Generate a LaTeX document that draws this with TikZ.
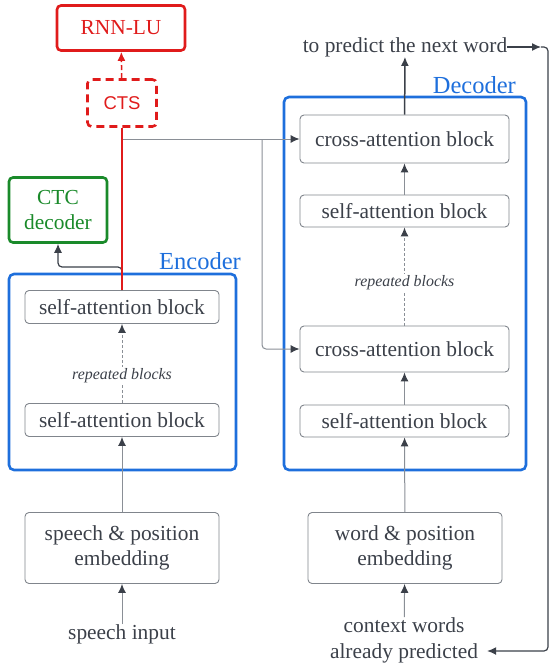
\documentclass[tikz,border=0pt]{standalone}
\usepackage{fontspec}
\setmainfont{Liberation Serif}
\setsansfont{Liberation Sans}
\usepackage{tikz}
\usetikzlibrary{arrows.meta,positioning}
\definecolor{txtgray}{HTML}{3B4049}
\definecolor{linegray}{HTML}{8A8F96}
\definecolor{boxgray}{HTML}{80858C}
\definecolor{encblue}{HTML}{1E6FDC}
\definecolor{ctsred}{HTML}{E01B1B}
\definecolor{ctcgreen}{HTML}{1A8A2A}
\tikzset
{
    txt/.style      = {inner sep=0pt, align=center, text=txtgray, font=\fontsize{21.4}{26}\selectfont},
    block/.style    = {rectangle, rounded corners=4pt, draw=boxgray, line width=0.9pt, align=center, text=txtgray, font=\fontsize{21.4}{25}\selectfont},
    encblock/.style = {block, minimum width=194pt, minimum height=33pt},
    embblock/.style = {block, minimum width=194pt, minimum height=71pt},
    group/.style    = {rectangle, rounded corners=5pt, draw=encblue, line width=2.6pt, inner sep=0pt},
    grouplabel/.style = {inner sep=0pt, text=encblue, anchor=east, font=\fontsize{24.5}{28}\selectfont},
    repeat/.style   = {inner sep=1pt, fill=white, text=txtgray, font=\fontsize{15.9}{18}\selectfont\itshape},
    arr/.style      = {-{Latex[length=9pt,width=8pt,color=txtgray]}, draw=linegray, line width=1pt},
    darr/.style     = {arr, draw=txtgray, line width=1.5pt}
}
\begin{document}
\begin{tikzpicture}[x=1pt,y=-1pt]
	\useasboundingbox (0,0) rectangle (550,666);
	% encoder side
	\node[group, minimum width=227pt, minimum height=196pt] (enc) at (122.5,372) {};
	\node[grouplabel] (enclabel) at (241,261) {Encoder};
	\node[encblock] (esa2) at (122,307) {self-attention block};
	\node[encblock] (esa1) at (122,420) {self-attention block};
	\node[embblock] (semb) at (122,548) {speech \& position\\embedding};
	\node[txt] (speech) at (122,634) {speech input};
	\node[block, draw=ctcgreen, text=ctcgreen, line width=2.6pt, minimum width=98pt, minimum height=65pt] (ctc) at (58,210) {CTC\\decoder};
	\node[block, draw=ctsred, text=ctsred, line width=2.6pt, dashed, dash pattern=on 8pt off 5pt, minimum width=69pt, minimum height=47pt, font=\fontsize{18.5}{22}\selectfont\sffamily] (cts) at (122,103) {CTS};
	\node[block, draw=ctsred, text=ctsred, line width=2.6pt, minimum width=128pt, minimum height=45pt] (rnn) at (121,28) {RNN-LU};
	% decoder side
	\node[group, minimum width=242pt, minimum height=373pt] (dec) at (405,283.5) {};
	\node[grouplabel] (declabel) at (516,85) {Decoder};
	\node[block, minimum width=209pt, minimum height=48pt] (dca1) at (404.5,139) {cross-attention block};
	\node[block, minimum width=209pt, minimum height=32pt] (dsa1) at (404.5,211) {self-attention block};
	\node[block, minimum width=209pt, minimum height=46pt] (dca2) at (404.5,349) {cross-attention block};
	\node[block, minimum width=209pt, minimum height=32pt] (dsa2) at (404.5,421) {self-attention block};
	\node[embblock] (wemb) at (405,548) {word \& position\\embedding};
	\node[txt] (context) at (404,640) {context words\\already predicted};
	\node[txt] (predict) at (405,47) {to predict the next word};
	% connectors
	\coordinate (ctcbend) at (122,267);
	\coordinate (tap) at (122,139);
	\coordinate (split) at (262,139);
	\coordinate (fbtip) at (541,47);
	\draw[arr] (speech) -- (semb);
	\draw[arr] (semb) -- (esa1);
	\draw[arr, densely dashed] (esa1) -- (esa2) node[repeat, pos=0.35] {repeated blocks};
	\draw[darr, line width=1.2pt, rounded corners=4pt] (esa2.north) -- (ctcbend) -| (ctc.south);
	\draw[arr] (tap) -- (dca1.west);
	\draw[arr, rounded corners=4pt] (split) |- (dca2.west);
	\draw[ctsred, line width=1.2pt] (esa2.north) -- (cts.south);
	\draw[arr, draw=ctsred, line width=1.5pt, dashed, dash pattern=on 5pt off 3pt, -{Latex[length=9pt,width=8pt,color=ctsred]}] (cts) -- (rnn);
	\draw[arr] (context) -- (wemb);
	\draw[arr] (wemb) -- (dsa2);
	\draw[arr] (dsa2) -- (dca2);
	\draw[arr, densely dashed] (dca2) -- (dsa1) node[repeat, pos=0.44] {repeated blocks};
	\draw[arr] (dsa1) -- (dca1);
	\draw[darr] (dca1) -- (predict);
	\draw[darr, line width=1.2pt] (predict.east) -- (fbtip);
	\draw[darr, line width=1.2pt, rounded corners=4pt] (fbtip) -- (548,47) |- ([xshift=9pt,yshift=-11pt]context.east);
\end{tikzpicture}
\end{document}
